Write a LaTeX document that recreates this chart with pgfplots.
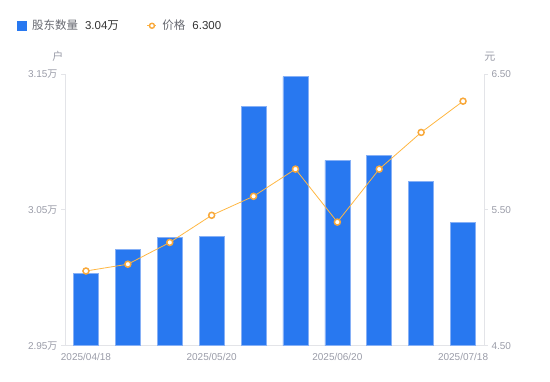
\documentclass[border=0pt]{standalone}
\usepackage{pgfplots}
\pgfplotsset{compat=1.18}
\usepackage{fontspec}
\setmainfont{Liberation Sans}
\newfontfamily\cjk{Noto Sans CJK SC}
\definecolor{barblue}{HTML}{2878F0}
\definecolor{baredge}{HTML}{86B0F6}
\definecolor{lineorange}{HTML}{FFB743}
\definecolor{markorange}{HTML}{F8A83A}
\definecolor{axisgray}{HTML}{E3E4E8}
\definecolor{tickgray}{HTML}{9A9CA8}
\definecolor{leggray}{HTML}{666870}
\definecolor{legdark}{HTML}{333333}
\begin{document}
\begin{tikzpicture}[x=1bp,y=1bp]
\useasboundingbox (0,0) rectangle (550,-381);
\begin{axis}[
  at={(65bp,-345.7bp)}, anchor=south west,
  scale only axis, width=419bp, height=271.7bp,
  xmin=-0.5, xmax=9.5, ymin=2.95, ymax=3.15,
  axis x line*=bottom, axis y line*=left,
  axis line style={draw=axisgray, line width=0.8bp},
  xtick={0,3,6,9},
  xticklabels={2025/04/18,2025/05/20,2025/06/20,2025/07/18},
  xtick style={draw=none},
  ytick={2.95,3.05,3.15},
  yticklabels={2.95{\cjk 万},3.05{\cjk 万},3.15{\cjk 万}},
  ytick style={draw=axisgray, line width=0.8bp},
  tick align=outside, major tick length=4bp,
  tick label style={font=\fontsize{10bp}{12bp}\selectfont, text=tickgray},
  ylabel={\cjk 户},
  ylabel style={rotate=-90, at={(axis description cs:-0.017,1.064)}, anchor=center, font=\fontsize{11bp}{13bp}\selectfont, text=tickgray},
  clip=true,
]
\addplot[ybar, bar width=25bp, fill=barblue, draw=baredge, line width=0.6bp]
  coordinates {(0,3.0035) (1,3.021) (2,3.030) (3,3.0305) (4,3.126) (5,3.148) (6,3.0865) (7,3.090) (8,3.071) (9,3.041)};
\end{axis}
\begin{axis}[
  at={(65bp,-345.7bp)}, anchor=south west,
  scale only axis, width=419bp, height=271.7bp,
  xmin=-0.5, xmax=9.5, ymin=4.5, ymax=6.5,
  axis x line=none, axis y line*=right,
  axis line style={draw=axisgray, line width=0.8bp},
  ytick={4.5,5.5,6.5},
  yticklabel style={/pgf/number format/.cd, fixed, fixed zerofill, precision=2},
  ytick style={draw=axisgray, line width=0.8bp},
  tick align=outside, major tick length=4bp,
  tick label style={font=\fontsize{10bp}{12bp}\selectfont, text=tickgray},
  /pgf/number format/assume math mode=true,
  ylabel={\cjk 元},
  ylabel style={rotate=-90, at={(axis description cs:1.0143,1.064)}, anchor=center, font=\fontsize{11bp}{13bp}\selectfont, text=tickgray},
  legend columns=2,
  legend style={at={(axis description cs:-0.1146,1.178)}, anchor=west, draw=none, fill=none, inner sep=0pt,
    nodes={inner sep=0pt, anchor=base west, font=\fontsize{11.5bp}{14bp}\selectfont},
    /tikz/every odd column/.append style={column sep=5.5bp},
    /tikz/every even column/.append style={column sep=28bp}},
]
\addlegendimage{legend image code/.code={\fill[barblue] (0bp,-0.5bp) rectangle (9bp,8.5bp);}}
\addlegendentry{{\cjk\color{leggray}股东数量}\hspace{7bp}{\color{legdark}3.04{\cjk 万}}}
\addplot[color=lineorange, line width=0.8bp, mark=*, mark size=3bp,
  mark options={fill=white, draw=markorange, line width=1.5bp},
  legend image code/.code={\draw[lineorange, line width=1bp] (0bp,4bp)--(9bp,4bp);
     \draw[markorange, fill=white, line width=1.4bp] (4.5bp,4bp) circle (2.5bp);}]
  coordinates {(0,5.05) (1,5.10) (2,5.26) (3,5.46) (4,5.60) (5,5.80) (6,5.41) (7,5.80) (8,6.07) (9,6.30)};
\addlegendentry{{\cjk\color{leggray}价格}\hspace{7bp}{\color{legdark}6.300}}
\end{axis}
\end{tikzpicture}
\end{document}
